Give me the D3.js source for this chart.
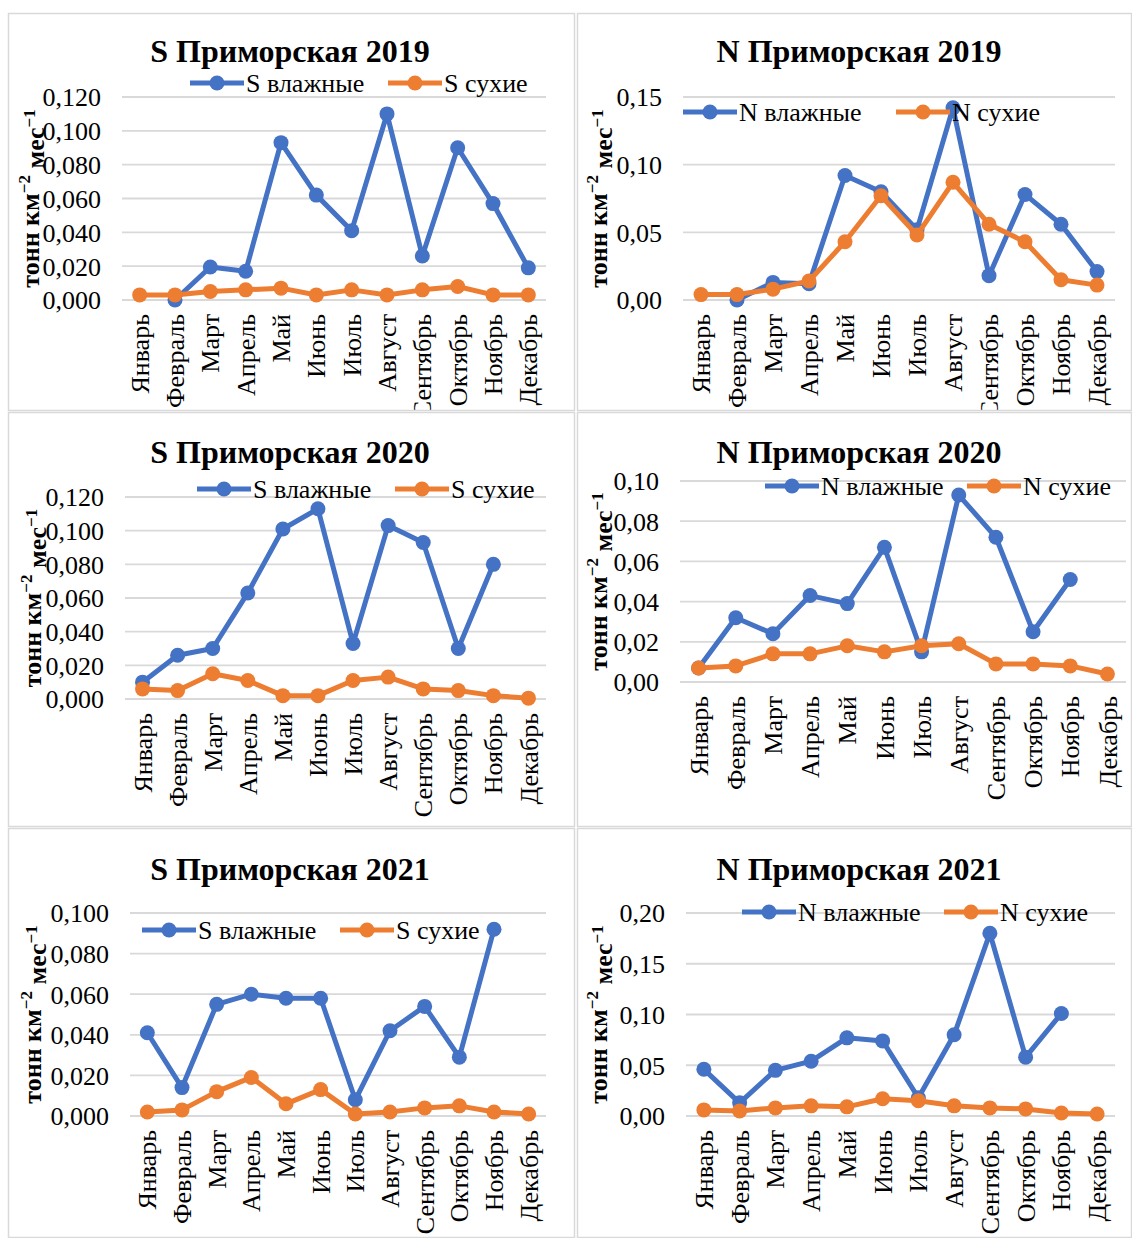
<!DOCTYPE html>
<html><head><meta charset="utf-8">
<script src="https://cdn.jsdelivr.net/npm/d3@7"></script>
<style>body{margin:0;background:#fff}svg{display:block}</style>
</head><body>
<script>
const months = ["Январь","Февраль","Март","Апрель","Май","Июнь","Июль","Август","Сентябрь","Октябрь","Ноябрь","Декабрь"];

const titles = ["S Приморская 2019","N Приморская 2019","S Приморская 2020","N Приморская 2020","S Приморская 2021","N Приморская 2021"];
const seriesNames = [["S влажные","S сухие"],["N влажные","N сухие"],["S влажные","S сухие"],["N влажные","N сухие"],["S влажные","S сухие"],["N влажные","N сухие"]];

const s2019wet = [null,0.000,0.0195,0.017,0.093,0.062,0.041,0.110,0.026,0.090,0.057,0.019];
const s2019dry = [0.003,0.003,0.005,0.006,0.007,0.003,0.006,0.003,0.006,0.008,0.003,0.003];
const n2019wet = [null,0.000,0.013,0.012,0.092,0.080,0.052,0.142,0.018,0.078,0.056,0.021];
const n2019dry = [0.004,0.004,0.008,0.014,0.043,0.077,0.048,0.087,0.056,0.043,0.015,0.011];
const s2020wet = [0.010,0.026,0.030,0.063,0.101,0.113,0.033,0.103,0.093,0.030,0.080,null];
const s2020dry = [0.006,0.005,0.015,0.011,0.002,0.002,0.011,0.013,0.006,0.005,0.002,0.0005];
const n2020wet = [0.007,0.032,0.024,0.043,0.039,0.067,0.015,0.093,0.072,0.025,0.051,null];
const n2020dry = [0.007,0.008,0.014,0.014,0.018,0.015,0.018,0.019,0.009,0.009,0.008,0.004];
const s2021wet = [0.041,0.014,0.055,0.060,0.058,0.058,0.008,0.042,0.054,0.029,0.092,null];
const s2021dry = [0.002,0.003,0.012,0.019,0.006,0.013,0.001,0.002,0.004,0.005,0.002,0.001];
const n2021wet = [0.046,0.013,0.045,0.054,0.077,0.074,0.018,0.080,0.180,0.058,0.101,null];
const n2021dry = [0.006,0.005,0.008,0.010,0.009,0.017,0.015,0.010,0.008,0.007,0.003,0.002];

const yMax = [0.12,0.15,0.12,0.10,0.10,0.20];
const yStep = [0.02,0.05,0.02,0.02,0.02,0.05];
const yDecimals = [3,2,3,2,3,2];

const wetData = [s2019wet,n2019wet,s2020wet,n2020wet,s2021wet,n2021wet];
const dryData = [s2019dry,n2019dry,s2020dry,n2020dry,s2021dry,n2021dry];

// layout
const panels = [
  {x0:8,y0:13,x1:575,y1:411, pl:122,pr:546,pt:97,pb:300, tx:290,ty:62, yt:30, lg:{y:83,b:190,o:388}},
  {x0:577,y0:13,x1:1132,y1:411, pl:683,pr:1115,pt:97,pb:300, tx:859,ty:62, yt:598, lg:{y:112,b:683,o:896}},
  {x0:8,y0:412,x1:575,y1:827, pl:125,pr:546,pt:497,pb:699, tx:290,ty:463, yt:32, lg:{y:489,b:197,o:395}},
  {x0:577,y0:412,x1:1132,y1:827, pl:680,pr:1126,pt:481,pb:682, tx:859,ty:463, yt:598, lg:{y:486,b:765,o:967}},
  {x0:8,y0:828,x1:575,y1:1238, pl:130,pr:546,pt:913,pb:1116, tx:290,ty:880, yt:32, lg:{y:930,b:142,o:340}},
  {x0:577,y0:828,x1:1132,y1:1238, pl:686,pr:1115,pt:913,pb:1116, tx:859,ty:880, yt:598, lg:{y:912,b:742,o:944}}
];

const BLUE = "#4472C4", ORANGE = "#ED7D31", GRID = "#d9d9d9";
const FONT = "'Liberation Serif','Times New Roman',serif";

const svg = d3.select("body").append("svg").attr("width",1132).attr("height",1238)
  .style("font-family",FONT);

const defs = svg.append("defs");

panels.forEach((p,i)=>{
  defs.append("clipPath").attr("id","clip"+i).append("rect")
    .attr("x",p.x0).attr("y",p.y0).attr("width",p.x1-p.x0).attr("height",p.y1-p.y0);
  const g = svg.append("g").attr("clip-path",`url(#clip${i})`);
  svg.append("rect").attr("x",p.x0+0.5).attr("y",p.y0+0.5).attr("width",p.x1-p.x0-1).attr("height",p.y1-p.y0-1)
    .attr("fill","none").attr("stroke","#d9d9d9").attr("stroke-width",1.5);

  const x = d3.scaleBand().domain(months).range([p.pl,p.pr]);
  const y = d3.scaleLinear().domain([0,yMax[i]]).range([p.pb,p.pt]);
  const ticks = d3.range(0, yMax[i]+yStep[i]/2, yStep[i]);
  const fmt = v => d3.format("."+yDecimals[i]+"f")(v).replace(".",",");

  g.append("g").selectAll("line").data(ticks).join("line")
    .attr("x1",p.pl).attr("x2",p.pr).attr("y1",d=>y(d)).attr("y2",d=>y(d))
    .attr("stroke",GRID).attr("stroke-width",1.8);

  const ya = g.append("g").attr("transform",`translate(${p.pl},0)`)
    .call(d3.axisLeft(y).tickValues(ticks).tickFormat(fmt).tickSize(0).tickPadding(21));
  ya.select(".domain").remove();
  ya.attr("font-family",FONT);
  ya.selectAll("text").style("font-family",FONT).style("font-size","26px").attr("fill","#000").attr("dy","0.34em");

  const xa = g.append("g").attr("transform",`translate(0,${p.pb})`)
    .call(d3.axisBottom(x).tickSize(0).tickPadding(0));
  xa.select(".domain").remove();
  xa.attr("font-family",FONT);
  xa.selectAll("text").style("font-family",FONT).style("font-size","26px").attr("fill","#000")
    .attr("text-anchor","end").attr("transform","rotate(-90)")
    .attr("x",-14).attr("y",0).attr("dy","0.35em");

  const yt = g.append("text").attr("transform",`translate(${p.yt},${(p.pt+p.pb)/2}) rotate(-90)`)
    .attr("text-anchor","middle").style("font-size","26px").style("font-weight","bold").attr("dy","0.35em");
  yt.append("tspan").text("тонн км");
  yt.append("tspan").text("−2").attr("dy","-0.55em").style("font-size","17px");
  yt.append("tspan").text(" мес").attr("dy","0.55em");
  yt.append("tspan").text("−1").attr("dy","-0.55em").style("font-size","17px");

  g.append("text").attr("x",p.tx).attr("y",p.ty).attr("text-anchor","middle")
    .style("font-size","32px").style("font-weight","bold").text(titles[i]);

  const cx = m => x(m)+x.bandwidth()/2;
  const drawSeries = (vals,color)=>{
    const pts = vals.map((v,k)=>({m:months[k],v})).filter(d=>d.v!==null);
    const line = d3.line().x(d=>cx(d.m)).y(d=>y(d.v));
    g.append("path").datum(pts).attr("d",line).attr("fill","none").attr("stroke",color)
      .attr("stroke-width",5).attr("stroke-linejoin","round");
    g.append("g").selectAll("circle").data(pts).join("circle")
      .attr("cx",d=>cx(d.m)).attr("cy",d=>y(d.v)).attr("r",7.5).attr("fill",color);
  };
  drawSeries(wetData[i],BLUE);
  drawSeries(dryData[i],ORANGE);

  const lgItem = (lx,color,label)=>{
    g.append("line").attr("x1",lx).attr("x2",lx+54).attr("y1",p.lg.y).attr("y2",p.lg.y)
      .attr("stroke",color).attr("stroke-width",5);
    g.append("circle").attr("cx",lx+27).attr("cy",p.lg.y).attr("r",7.5).attr("fill",color);
    g.append("text").attr("x",lx+56).attr("y",p.lg.y).attr("dy","0.35em")
      .style("font-size","26px").text(label);
  };
  lgItem(p.lg.b,BLUE,seriesNames[i][0]);
  lgItem(p.lg.o,ORANGE,seriesNames[i][1]);
});
</script>
</body></html>
